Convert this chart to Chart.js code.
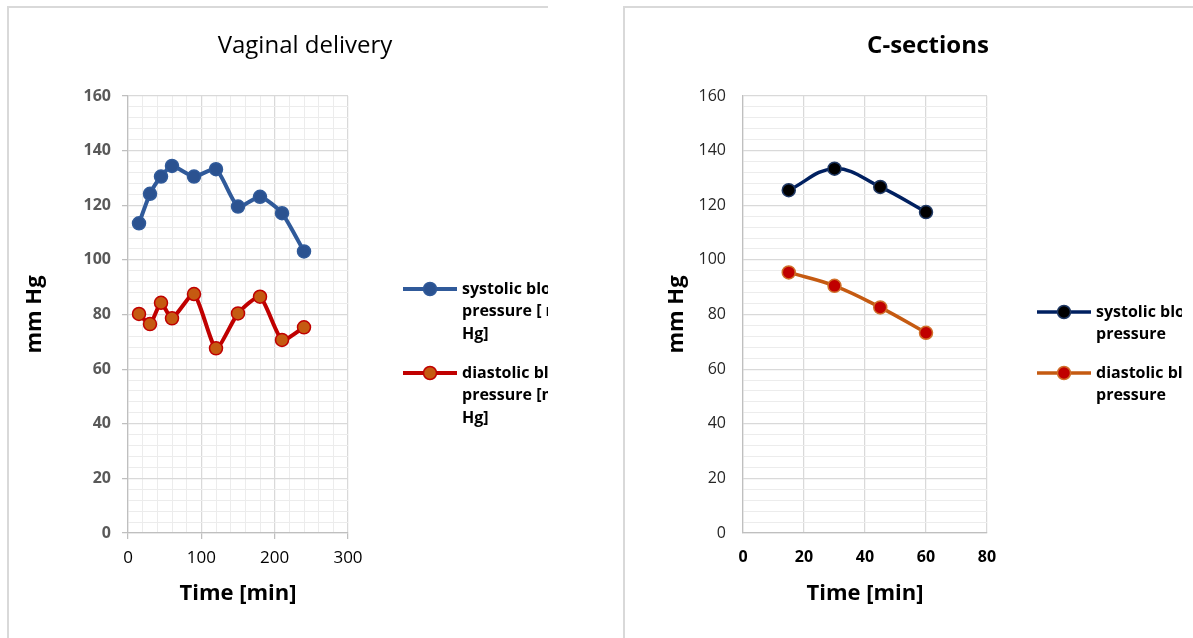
<!DOCTYPE html>
<html>
<head>
<meta charset="utf-8">
<script src="https://cdn.jsdelivr.net/npm/chart.js@4.4.1/dist/chart.umd.min.js"></script>
<style>
  html, body { margin: 0; padding: 0; background: #fff; }
  body { width: 1193px; height: 638px; position: relative; overflow: hidden; }
  .panel { position: absolute; top: 6px; height: 632px; overflow: hidden; box-shadow: inset 2px 2px 0 #d9d9d9; }
  #panel-vag { left: 7px; width: 541px; }
  #panel-cs  { left: 623px; width: 559px; }
  #cs-edge   { position: absolute; left: 1182px; top: 6px; width: 11px; height: 2px; background: #d9d9d9; }
  .panel canvas { position: absolute; left: 0; top: 0; }
</style>
</head>
<body>
<div class="panel" id="panel-vag"><canvas id="chart-vag" width="596" height="632"></canvas></div>
<div class="panel" id="panel-cs"><canvas id="chart-cs" width="610" height="632"></canvas></div>
<div id="cs-edge"></div>
<script>
// Vaginal delivery
const vagTime      = [15, 30, 45, 60, 90, 120, 150, 180, 210, 240]
const vagSystolic  = [113.4, 124.2, 130.5, 134.4, 130.5, 133.2, 119.5, 123.1, 117.1, 103.1]
const vagDiastolic = [80.2, 76.5, 84.3, 78.6, 87.5, 67.6, 80.4, 86.5, 70.7, 75.3]
const vagLegend    = [['systolic blood', 'pressure [ mm', 'Hg]'], ['diastolic blood', 'pressure [mm', 'Hg]']]
const vagXLabels   = [0, 100, 200, 300]

// C-sections
const csTime      = [15, 30, 45, 60]
const csSystolic  = [125.5, 133.4, 126.7, 117.5]
const csDiastolic = [95.4, 90.5, 82.6, 73.3]
const csLegend    = [['systolic blood', 'pressure'], ['diastolic blood', 'pressure']]
const csXLabels   = [0, 20, 40, 60, 80]

const yLabels = [0, 20, 40, 60, 80, 100, 120, 140, 160]

const MAJOR = '#d9d9d9'
const MINOR = '#ececec'
const FONT  = "'Open Sans', sans-serif"

Chart.defaults.font.family = FONT
Chart.defaults.color = '#000'

const toPoints = (xs, ys) => xs.map((x, i) => ({ x, y: ys[i] }))

// title + wrapped legend on the right side
const sideText = {
  id: 'sideText',
  afterDraw(chart, args, o) {
    const { ctx } = chart
    ctx.save()
    ctx.fillStyle = '#000'
    ctx.textAlign = 'center'
    ctx.textBaseline = 'middle'
    ctx.font = o.titleFont
    ctx.fillText(o.title, chart.width / 2, o.titleY)

    chart.data.datasets.forEach((ds, i) => {
      const y = o.legendY[i]
      ctx.strokeStyle = ds.borderColor
      ctx.lineWidth = ds.borderWidth
      ctx.beginPath()
      ctx.moveTo(o.legendX, y)
      ctx.lineTo(o.legendX + 54, y)
      ctx.stroke()
      ctx.beginPath()
      ctx.arc(o.legendX + 27, y, ds.pointRadius, 0, Math.PI * 2)
      ctx.fillStyle = ds.pointBackgroundColor
      ctx.fill()
      ctx.lineWidth = ds.pointBorderWidth
      ctx.strokeStyle = ds.pointBorderColor
      ctx.stroke()

      ctx.fillStyle = '#000'
      ctx.textAlign = 'left'
      ctx.font = 'bold 16px ' + FONT
      o.labels[i].forEach((line, k) => ctx.fillText(line, o.legendX + 59, y + k * 22.5))
    })
    ctx.restore()
  }
}

function makeScales(c) {
  return {
    x: {
      type: 'linear', min: 0, max: c.xMax,
      afterFit: s => { s.height = 105 },
      border: { color: '#bfbfbf', width: 1.25 },
      grid: {
        color: t => c.xLabels.includes(t.tick.value) ? MAJOR : MINOR,
        lineWidth: t => c.xLabels.includes(t.tick.value) ? 1.25 : 1,
        drawTicks: c.drawTicks, tickLength: 6,
        tickColor: t => c.xLabels.includes(t.tick.value) ? '#bfbfbf' : 'rgba(0,0,0,0)',
      },
      ticks: {
        stepSize: c.xStep, autoSkip: false, maxRotation: 0,
        padding: c.xPad, color: '#000',
        font: c.xFont,
        callback: v => c.xLabels.includes(v) ? v : '',
      },
      title: { display: true, text: 'Time [min]', color: '#000',
        font: { size: 22, weight: 'bold' }, padding: { top: 0, bottom: c.xTitlePad } },
    },
    y: {
      min: 0, max: 160,
      afterFit: s => { s.width = c.yWidth },
      border: { color: '#bfbfbf', width: 1.25 },
      grid: {
        color: t => yLabels.includes(t.tick.value) ? MAJOR : MINOR,
        lineWidth: t => yLabels.includes(t.tick.value) ? 1.25 : 1,
        drawTicks: c.drawTicks, tickLength: 6,
        tickColor: t => yLabels.includes(t.tick.value) ? '#bfbfbf' : 'rgba(0,0,0,0)',
      },
      ticks: {
        stepSize: 4, autoSkip: false,
        padding: c.yPad, color: c.yColor,
        font: c.yFont,
        callback: v => yLabels.includes(v) ? v : '',
      },
      title: { display: true, text: 'mm Hg', color: '#000',
        font: { size: 22, weight: 'bold' }, padding: { top: c.yTitlePad, bottom: 0 } },
    },
  }
}

new Chart(document.getElementById('chart-vag'), {
  type: 'line',
  data: {
    datasets: [
      {
        label: vagLegend[0].join(' '),
        data: toPoints(vagTime, vagSystolic),
        borderColor: '#305a9a', borderWidth: 4, tension: 0.2,
        pointRadius: 6.5, pointBackgroundColor: '#2b5290',
        pointBorderColor: '#305a9a', pointBorderWidth: 1.5,
      },
      {
        label: vagLegend[1].join(' '),
        data: toPoints(vagTime, vagDiastolic),
        borderColor: '#c00000', borderWidth: 4, tension: 0.2,
        pointRadius: 6.5, pointBackgroundColor: '#c55a11',
        pointBorderColor: '#c00000', pointBorderWidth: 1.5,
      },
    ],
  },
  options: {
    responsive: false, animation: false,
    layout: { padding: { left: 0, right: 255, top: 90, bottom: 0 } },
    scales: makeScales({
      xMax: 300, xStep: 20, xLabels: vagXLabels, drawTicks: true,
      xPad: 9, xFont: { size: 17 }, xTitlePad: 30.8,
      yWidth: 121, yPad: 11, yColor: '#595959', yFont: { size: 16, weight: 'bold' }, yTitlePad: 14.8,
    }),
    plugins: {
      legend: { display: false },
      tooltip: { enabled: false },
      sideText: {
        title: 'Vaginal delivery', titleFont: '24px ' + FONT, titleY: 40,
        legendX: 396, legendY: [283, 367], labels: vagLegend,
      },
    },
  },
  plugins: [sideText],
})

new Chart(document.getElementById('chart-cs'), {
  type: 'line',
  data: {
    datasets: [
      {
        label: csLegend[0].join(' '),
        data: toPoints(csTime, csSystolic),
        borderColor: '#002060', borderWidth: 3.5, tension: 0.4,
        pointRadius: 6.5, pointBackgroundColor: '#000000',
        pointBorderColor: '#1f3864', pointBorderWidth: 1.5,
      },
      {
        label: csLegend[1].join(' '),
        data: toPoints(csTime, csDiastolic),
        borderColor: '#c55a11', borderWidth: 3.5, tension: 0.4,
        pointRadius: 6.5, pointBackgroundColor: '#c00000',
        pointBorderColor: '#d0702a', pointBorderWidth: 1.5,
      },
    ],
  },
  options: {
    responsive: false, animation: false,
    layout: { padding: { left: 0, right: 246, top: 90, bottom: 0 } },
    scales: makeScales({
      xMax: 80, xStep: 20, xLabels: csXLabels, drawTicks: false,
      xPad: 15, xFont: { size: 16, weight: 'bold' }, xTitlePad: 30.8,
      yWidth: 120, yPad: 17, yColor: '#262626', yFont: { size: 16 }, yTitlePad: 40.8,
    }),
    plugins: {
      legend: { display: false },
      tooltip: { enabled: false },
      sideText: {
        title: 'C-sections', titleFont: 'bold 24px ' + FONT, titleY: 40,
        legendX: 414, legendY: [306, 367], labels: csLegend,
      },
    },
  },
  plugins: [sideText],
})
</script>
</body>
</html>
